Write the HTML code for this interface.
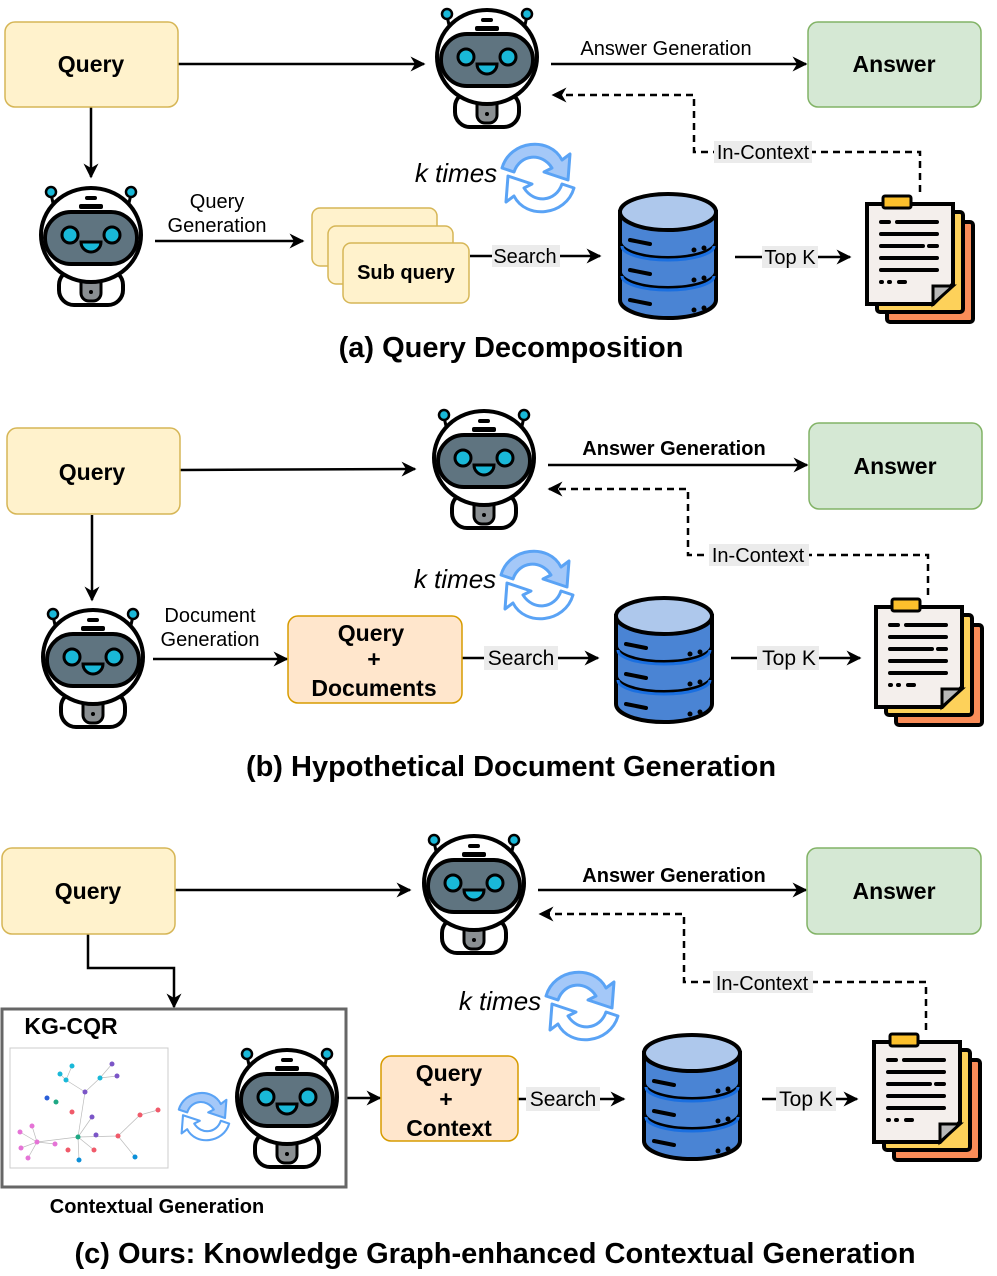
<!DOCTYPE html>
<html><head><meta charset="utf-8"><style>
html,body{margin:0;padding:0;background:#fff}
svg{display:block;font-family:"Liberation Sans",Arial,sans-serif}
</style></head><body>
<svg width="997" height="1276" viewBox="0 0 997 1276" xmlns="http://www.w3.org/2000/svg">
<defs>
<marker id="ah" viewBox="0 0 10 10" refX="9" refY="5" markerWidth="6" markerHeight="6" orient="auto"><path d="M0,0 L10,5 L0,10 L3,5 z" fill="#000"/></marker>
<g id="robot">
 <line x1="12" y1="16" x2="16" y2="34" stroke="#000" stroke-width="3"/>
 <line x1="92" y1="16" x2="88" y2="34" stroke="#000" stroke-width="3"/>
 <circle cx="12" cy="14" r="5" fill="#19b8d8" stroke="#000" stroke-width="2.5"/>
 <circle cx="92" cy="14" r="5" fill="#19b8d8" stroke="#000" stroke-width="2.5"/>
 <rect x="20" y="92" width="64" height="35" rx="15" fill="#fff" stroke="#000" stroke-width="4"/>
 <rect x="42" y="96" width="20" height="27" rx="8" fill="#8a8f92" stroke="#000" stroke-width="3"/>
 <circle cx="52" cy="114" r="2" fill="#000"/>
 <ellipse cx="52" cy="57" rx="50" ry="47" fill="#fff" stroke="#000" stroke-width="4"/>
 <rect x="46" y="18" width="12" height="4" rx="2" fill="#000"/>
 <rect x="40" y="26" width="24" height="5" rx="2" fill="#000"/>
 <rect x="6" y="34" width="92" height="52" rx="26" fill="#5f7480" stroke="#000" stroke-width="4"/>
 <circle cx="31" cy="57" r="8" fill="#19b8d8" stroke="#000" stroke-width="3"/>
 <circle cx="73" cy="57" r="8" fill="#19b8d8" stroke="#000" stroke-width="3"/>
 <path d="M42,64 h20 a10,10 0 0 1 -20,0z" fill="#19b8d8" stroke="#000" stroke-width="3"/>
</g>
<g id="db">
 <path d="M4,22 v88 a48,18 0 0 0 96,0 v-88z" fill="#4a84d4" stroke="#000" stroke-width="4"/>
 <path d="M4,52 a48,16 0 0 0 96,0 M4,82 a48,16 0 0 0 96,0" fill="none" stroke="#000" stroke-width="4"/>
 <path d="M6,56 a46,14 0 0 0 92,0 M6,86 a46,14 0 0 0 92,0" fill="none" stroke="#1a6fe0" stroke-width="3"/>
 <ellipse cx="52" cy="22" rx="48" ry="18" fill="#aec8ec" stroke="#000" stroke-width="4"/>
 <path d="M14,50 l20,4 M14,80 l20,4 M14,110 l20,4" stroke="#000" stroke-width="4" stroke-linecap="round"/>
 <circle cx="78" cy="60" r="2.5"/><circle cx="88" cy="58" r="2.5"/>
 <circle cx="78" cy="90" r="2.5"/><circle cx="88" cy="88" r="2.5"/>
 <circle cx="78" cy="120" r="2.5"/><circle cx="88" cy="118" r="2.5"/>
</g>
<g id="doc">
 <rect x="22" y="30" width="86" height="100" rx="3" fill="#f98c58" stroke="#000" stroke-width="4"/>
 <rect x="12" y="20" width="86" height="100" rx="3" fill="#fdd15a" stroke="#000" stroke-width="4"/>
 <path d="M2,12 h86 v80 l-20,20 h-66z" fill="#f4efec" stroke="#000" stroke-width="4"/>
 <path d="M68,112 v-18 h20z" fill="#b8b8b8" stroke="#000" stroke-width="3"/>
 <rect x="18" y="4" width="28" height="12" rx="2" fill="#fcc02c" stroke="#000" stroke-width="3"/>
 <g stroke="#000" stroke-width="4" stroke-linecap="round">
 <path d="M16,30 h8 M32,30 h40 M16,42 h56 M16,54 h42 M64,54 h8 M16,66 h56 M16,78 h56 M34,90 h6"/>
 <path d="M16,90 h1 M24,90 h1" /></g>
</g>
<g id="ref">
 <path d="M4,28 C12,0 52,-4 64,20 L72,14 L70,40 L46,32 L54,28 C44,12 22,14 16,32z" fill="#a4c8f8" stroke="#5aa3f5" stroke-width="3" stroke-linejoin="round"/>
 <path d="M76,48 C68,76 28,80 16,56 L8,62 L10,36 L34,44 L26,48 C36,64 58,62 64,44z" fill="#fff" stroke="#5aa3f5" stroke-width="3" stroke-linejoin="round"/>
</g>
</defs>

<g stroke="#000" stroke-width="2.5" fill="none" marker-end="url(#ah)">
 <path d="M178,64 H424"/><path d="M551,64 H806"/><path d="M91,107 V177"/>
 <path d="M155,241 H303"/><path d="M470,256 H600"/><path d="M735,257 H850"/>
 <path d="M920,192 V152 H694 V95 H553" stroke-dasharray="7,5"/>
 <path d="M180,470 L415,469"/><path d="M548,465 H807"/><path d="M92,515 V600"/>
 <path d="M153,659 H287"/><path d="M462,658 H598"/><path d="M731,658 H860"/>
 <path d="M928,595 V555 H688 V489 H549" stroke-dasharray="7,5"/>
 <path d="M175,890 H410"/><path d="M538,890 H806"/><path d="M88,934 V968 H174 V1007"/>
 <path d="M346,1098 H380"/><path d="M518,1099 H624"/><path d="M762,1099 H857"/>
 <path d="M926,1030 V982 H684 V914 H540" stroke-dasharray="7,5"/>
</g>

<g stroke-width="1.5">
<rect x="5" y="22" width="173" height="85" rx="10" fill="#fff2cc" stroke="#d6b656"/>
<rect x="808" y="22" width="173" height="85" rx="10" fill="#d5e8d4" stroke="#82b366"/>
<rect x="312" y="208" width="125" height="58" rx="8" fill="#fff2cc" stroke="#d6b656"/>
<rect x="328" y="226" width="125" height="58" rx="8" fill="#fff2cc" stroke="#d6b656"/>
<rect x="343" y="243" width="126" height="60" rx="8" fill="#fff2cc" stroke="#d6b656"/>
<rect x="7" y="428" width="173" height="86" rx="10" fill="#fff2cc" stroke="#d6b656"/>
<rect x="809" y="423" width="173" height="86" rx="10" fill="#d5e8d4" stroke="#82b366"/>
<rect x="288" y="616" width="174" height="87" rx="10" fill="#ffe6cc" stroke="#d79b00"/>
<rect x="2" y="848" width="173" height="86" rx="10" fill="#fff2cc" stroke="#d6b656"/>
<rect x="807" y="848" width="174" height="86" rx="10" fill="#d5e8d4" stroke="#82b366"/>
<rect x="381" y="1056" width="137" height="85" rx="10" fill="#ffe6cc" stroke="#d79b00"/>
</g>
<rect x="2" y="1009" width="344" height="178" fill="#fff" stroke="#666" stroke-width="3"/>
<rect x="10" y="1048" width="158" height="120" fill="#fff" stroke="#ccc"/>
<g stroke="#bbb" stroke-width="0.7" fill="none">
<path d="M78,1137 L85,1092 L66,1080 M85,1092 L100,1078 L112,1064 M78,1137 L37,1142 M78,1137 L118,1136 L140,1115 L158,1110 M118,1136 L135,1157 M78,1137 L79,1160 M78,1137 L94,1150 M78,1137 L92,1117"/>
<path d="M37,1142 L20,1132 M37,1142 L28,1158 M37,1142 L55,1144 M37,1142 L21,1148 M66,1080 L60,1074 M66,1080 L72,1066 M100,1078 L117,1076 M37,1142 L32,1126"/>
</g>
<g>
<circle cx="78" cy="1137" r="2.5" fill="#1ea884"/><circle cx="85" cy="1092" r="2.5" fill="#7b55c7"/>
<circle cx="66" cy="1080" r="2.5" fill="#19b8d8"/><circle cx="72" cy="1066" r="2.5" fill="#19b8d8"/>
<circle cx="60" cy="1074" r="2.5" fill="#19b8d8"/><circle cx="100" cy="1078" r="2.5" fill="#19b8d8"/>
<circle cx="112" cy="1064" r="2.5" fill="#7b55c7"/><circle cx="117" cy="1076" r="2.5" fill="#7b55c7"/>
<circle cx="37" cy="1142" r="2.5" fill="#e573d6"/><circle cx="20" cy="1132" r="2.5" fill="#e573d6"/>
<circle cx="28" cy="1158" r="2.5" fill="#e573d6"/><circle cx="55" cy="1144" r="2.5" fill="#e573d6"/>
<circle cx="21" cy="1148" r="2.5" fill="#e573d6"/><circle cx="32" cy="1126" r="2.5" fill="#e573d6"/>
<circle cx="118" cy="1136" r="2.5" fill="#f05a6a"/><circle cx="140" cy="1115" r="2.5" fill="#f05a6a"/>
<circle cx="158" cy="1110" r="2.5" fill="#f05a6a"/><circle cx="135" cy="1157" r="2.5" fill="#0c8fd8"/>
<circle cx="79" cy="1160" r="2.5" fill="#0c8fd8"/><circle cx="94" cy="1150" r="2.5" fill="#f05a6a"/>
<circle cx="92" cy="1117" r="2.5" fill="#7b55c7"/><circle cx="96" cy="1135" r="2.5" fill="#7b55c7"/>
<circle cx="56" cy="1102" r="2.5" fill="#1ea884"/><circle cx="47" cy="1098" r="2.5" fill="#2a5fd8"/>
<circle cx="72" cy="1112" r="2.5" fill="#f05a6a"/><circle cx="68" cy="1150" r="2.5" fill="#f05a6a"/>
</g>

<use href="#robot" x="435" y="0"/><use href="#robot" x="39" y="178"/>
<use href="#robot" x="432" y="401"/><use href="#robot" x="41" y="600"/>
<use href="#robot" x="422" y="826"/><use href="#robot" x="235" y="1040"/>
<use href="#db" x="616" y="190"/><use href="#db" x="612" y="594"/><use href="#db" x="640" y="1031"/>
<use href="#doc" x="865" y="192"/><use href="#doc" x="874" y="595"/><use href="#doc" x="872" y="1030"/>
<use href="#ref" x="498" y="140"/><use href="#ref" x="497" y="547"/><use href="#ref" x="542" y="968"/>
<use href="#ref" transform="translate(176,1090) scale(0.7)"/>

<g fill="#ebebeb">
<rect x="714" y="141" width="98" height="22"/><rect x="492" y="245" width="68" height="22"/><rect x="762" y="246" width="56" height="22"/>
<rect x="709" y="544" width="100" height="22"/><rect x="484" y="646" width="74" height="24"/><rect x="757" y="646" width="62" height="24"/>
<rect x="713" y="971" width="100" height="22"/><rect x="526" y="1087" width="74" height="24"/><rect x="776" y="1087" width="60" height="24"/>
</g>

<g font-size="20" text-anchor="middle" fill="#000">
<text x="666" y="55">Answer Generation</text>
<text x="763" y="159">In-Context</text>
<text x="217" y="208">Query</text><text x="217" y="232">Generation</text>
<text x="525" y="263">Search</text><text x="790" y="264">Top K</text>
<text x="758" y="562">In-Context</text>
<text x="210" y="622">Document</text><text x="210" y="646">Generation</text>
<text x="521" y="665" font-size="21">Search</text><text x="789" y="665" font-size="21">Top K</text>
<text x="762" y="990">In-Context</text>
<text x="563" y="1106" font-size="21">Search</text><text x="806" y="1106" font-size="21">Top K</text>
<text x="456" y="182" font-size="26" font-style="italic">k times</text>
<text x="455" y="588" font-size="26" font-style="italic">k times</text>
<text x="500" y="1010" font-size="26" font-style="italic">k times</text>
</g>
<g font-weight="bold" text-anchor="middle" fill="#000">
<text x="91" y="72" font-size="23">Query</text><text x="894" y="72" font-size="23">Answer</text>
<text x="406" y="279" font-size="20">Sub query</text>
<text x="92" y="480" font-size="23">Query</text><text x="895" y="474" font-size="23">Answer</text>
<text x="674" y="455" font-size="20">Answer Generation</text>
<text x="371" y="641" font-size="23">Query</text><text x="374" y="667" font-size="23">+</text><text x="374" y="696" font-size="23">Documents</text>
<text x="88" y="899" font-size="23">Query</text><text x="894" y="899" font-size="23">Answer</text>
<text x="674" y="882" font-size="20">Answer Generation</text>
<text x="449" y="1081" font-size="23">Query</text><text x="446" y="1107" font-size="23">+</text><text x="449" y="1136" font-size="23">Context</text>
<text x="71" y="1034" font-size="23">KG-CQR</text>
<text x="157" y="1213" font-size="20">Contextual Generation</text>
<text x="511" y="357" font-size="29">(a) Query Decomposition</text>
<text x="511" y="776" font-size="29">(b) Hypothetical Document Generation</text>
<text x="495" y="1263" font-size="29">(c) Ours: Knowledge Graph-enhanced Contextual Generation</text>
</g>
</svg>
</body></html>
